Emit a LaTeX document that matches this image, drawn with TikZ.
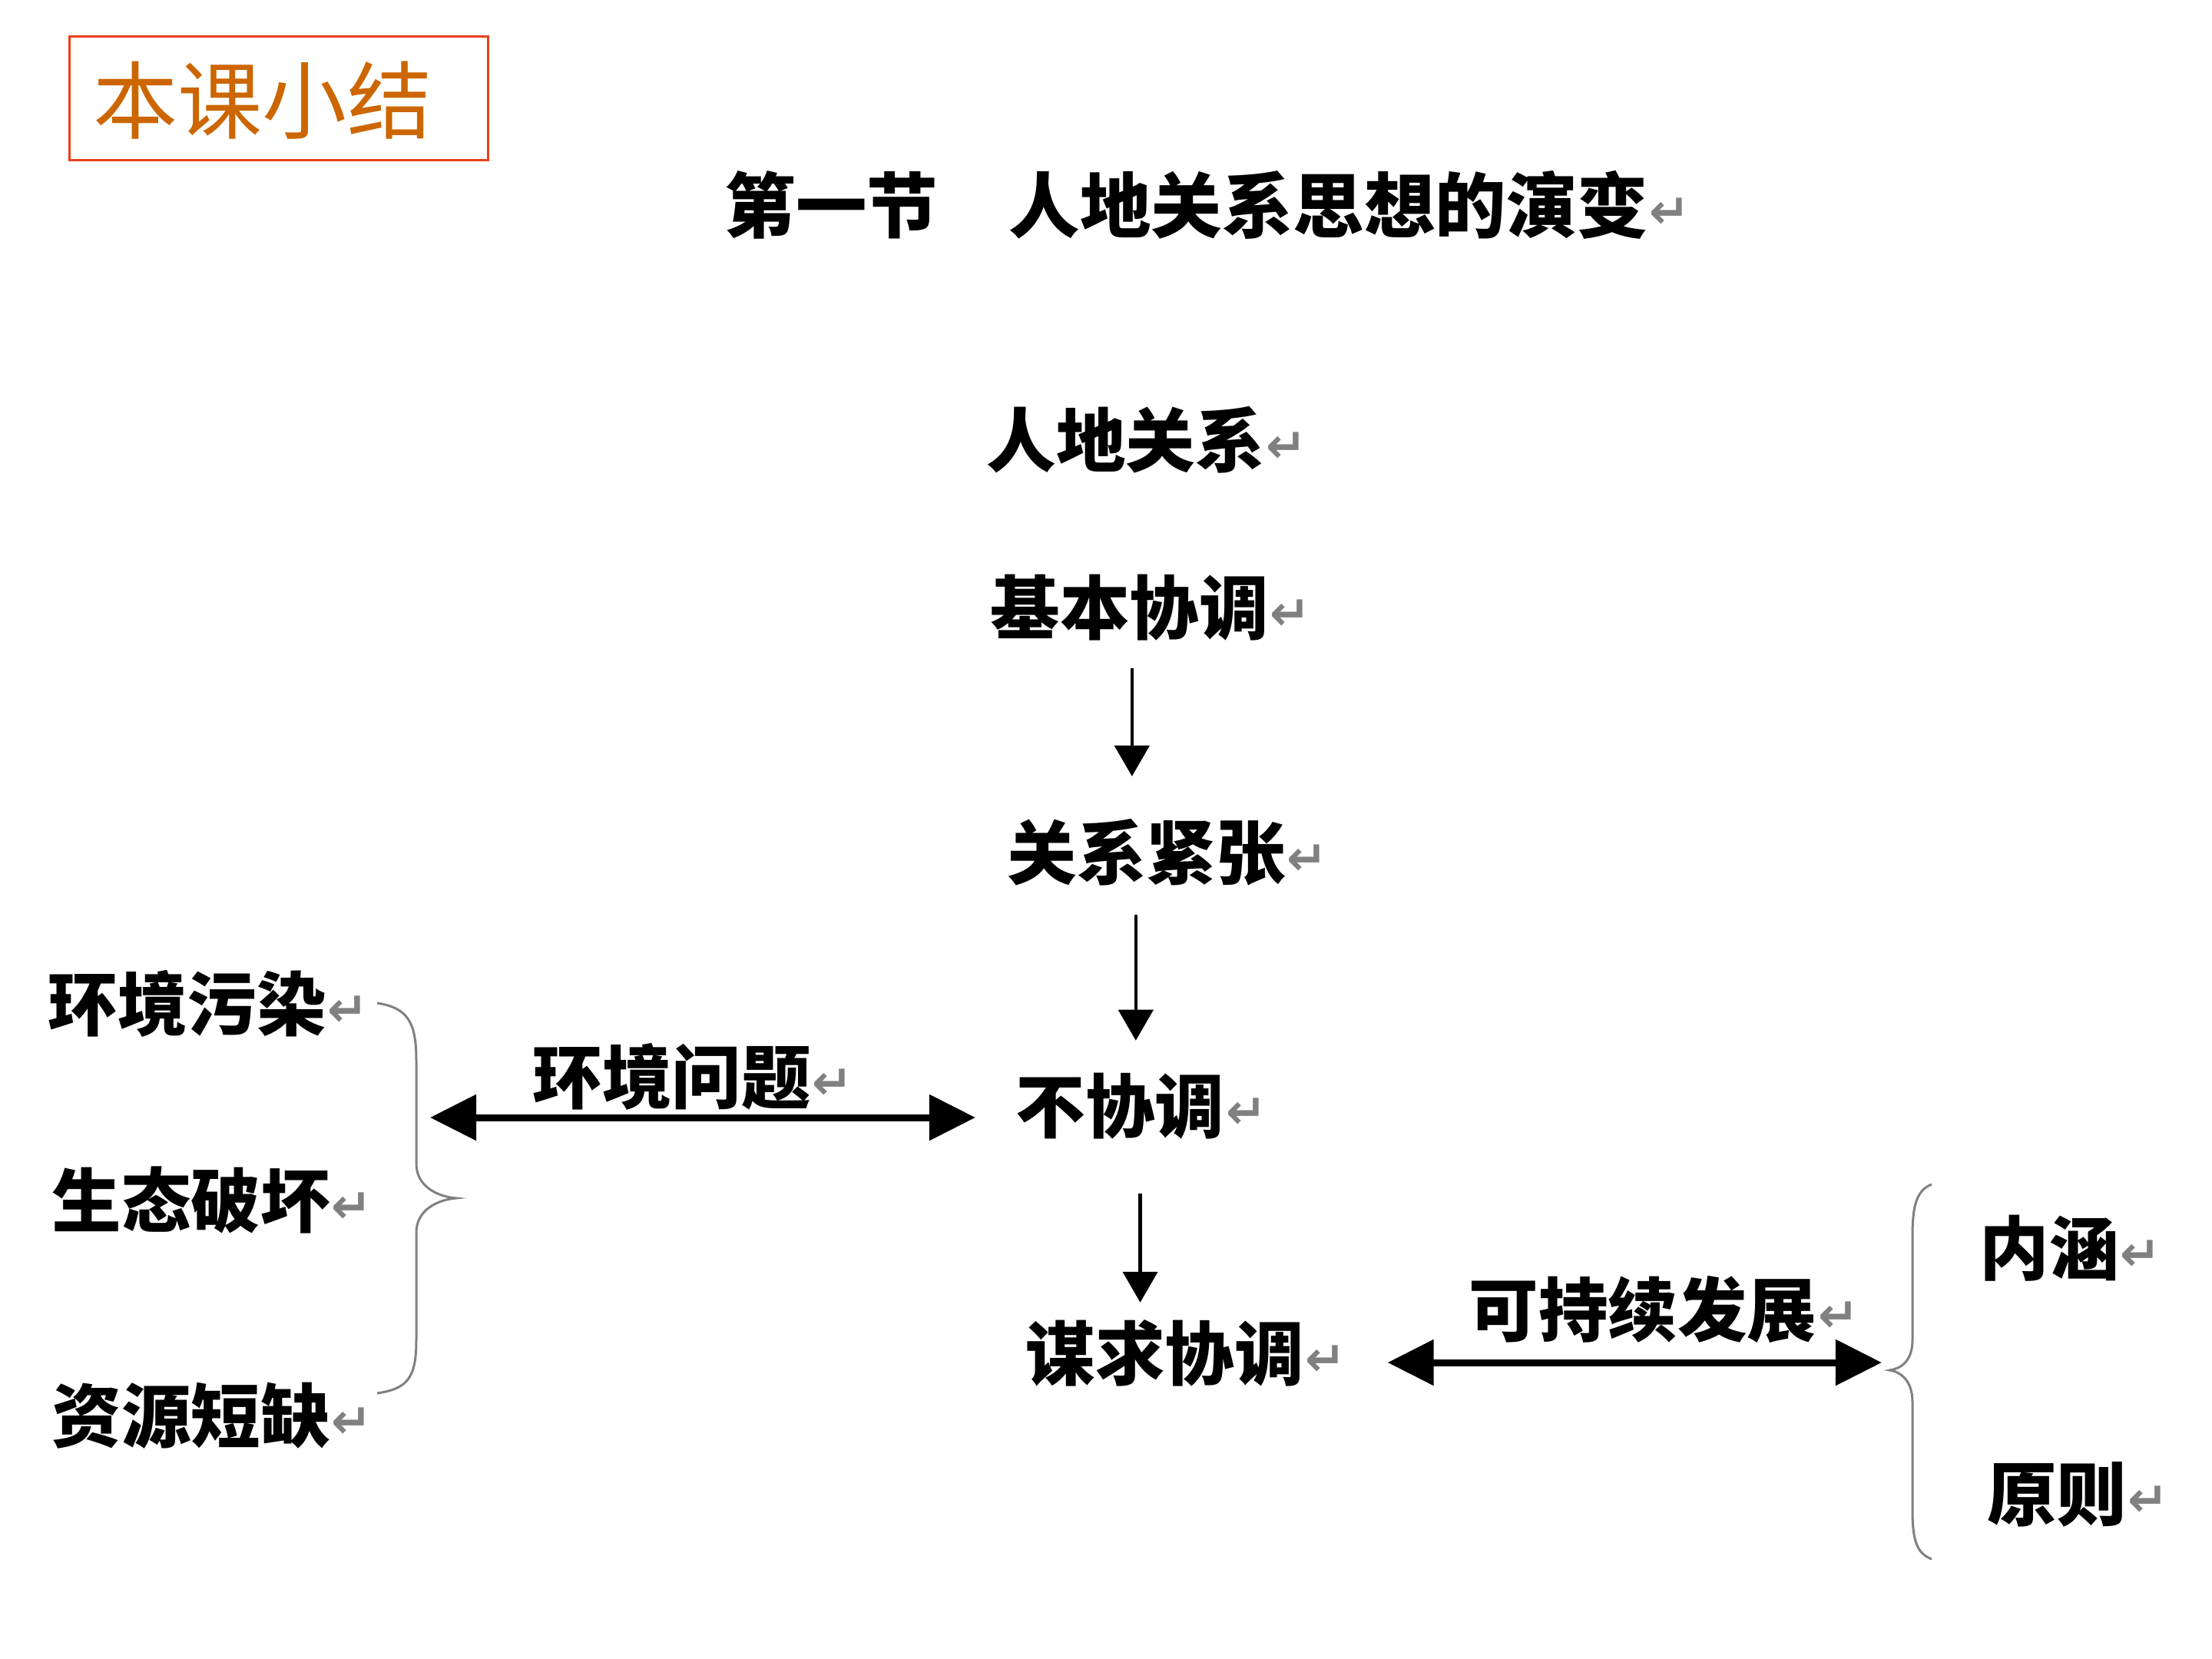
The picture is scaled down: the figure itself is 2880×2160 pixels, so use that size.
\documentclass[tikz,border=0pt]{standalone}
\usepackage{fontspec}
\newfontfamily\cjk{Noto Sans CJK SC}
\newfontfamily\djv{DejaVu Sans}
\usetikzlibrary{arrows.meta}
\definecolor{heading}{RGB}{204,102,0}
\definecolor{boxred}{RGB}{232,64,28}
\definecolor{markgray}{RGB}{128,128,128}
\newcommand{\rmark}{\rlap{\hspace{0.02em}\raisebox{0.05cm}{\djv\fontsize{18pt}{18pt}\selectfont\color{markgray}↵}}}
\begin{document}
\begin{tikzpicture}[x=0.01cm,y=-0.01cm,
  txt/.style={inner sep=0pt, anchor=west, text height=0.75cm, text depth=0.06cm,
    font=\cjk\bfseries\fontsize{25.75pt}{26pt}\selectfont},
  ttl/.style={inner sep=0pt, anchor=west, text height=0.77cm, text depth=0.06cm,
    font=\cjk\bfseries\fontsize{26.3pt}{27pt}\selectfont},
  vert/.style={line width=0.045cm, -{Triangle[length=0.4cm,width=0.45cm]}},
  dbl/.style={line width=0.09cm, {Triangle[length=0.6cm,width=0.58cm]}-{Triangle[length=0.6cm,width=0.58cm]}},
  brace/.style={markgray, line width=0.03cm}]
\useasboundingbox (0,0) rectangle (2880,2160);
\fill[white] (0,0) rectangle (2880,2160);
% heading
\node[draw=boxred, line width=0.03cm, minimum width=5.44cm, minimum height=1.6cm, inner sep=0pt] (hdbox) at (363,128) {};
\node[inner sep=0pt, text=heading, font=\cjk\fontsize{31.3pt}{32pt}\selectfont] (hd) at (342,131) {本课小结};
% title
\node[ttl] (title) at (943,267) {第一节　人地关系思想的演变\rmark};
% centre column
\node[txt] (t1) at (1284,573) {人地关系\rmark};
\node[txt] (t2) at (1289,791) {基本协调\rmark};
\node[txt] (t3) at (1311,1110) {关系紧张\rmark};
\node[txt] (t4) at (1322,1440) {不协调\rmark};
\node[txt] (t5) at (1335,1762) {谋求协调\rmark};
% left column
\node[txt] (l1) at (62,1307) {环境污染\rmark};
\node[txt] (l2) at (67,1563) {生态破坏\rmark};
\node[txt] (l3) at (67,1843) {资源短缺\rmark};
\node[txt] (lbl1) at (693,1402) {环境问题\rmark};
% right column
\node[txt] (lbl2) at (1912,1705) {可持续发展\rmark};
\node[txt] (r1) at (2577,1625) {内涵\rmark};
\node[txt] (r2) at (2587,1945) {原则\rmark};
% vertical arrows
\draw[vert, shorten <=0.38cm, shorten >=0.58cm] ([xshift=0.03cm]t2.south) -- ([xshift=0.03cm]t2.south |- t3.north);
\draw[vert, shorten <=0.40cm, shorten >=0.44cm] ([xshift=-0.14cm]t3.south) -- ([xshift=-0.14cm]t3.south |- t4.north);
\draw[vert, shorten <=0.73cm, shorten >=0.25cm] ([xshift=0.26cm]t4.south) -- ([xshift=0.26cm]t4.south |- t5.north);
% braces
\coordinate (lb) at (594,1560);
\coordinate (rb) at (2460,1784);
\draw[brace] (491,1306) .. controls (530,1312) and (542,1330) .. (542,1380) -- (542,1515)
  .. controls (542,1545) and (570,1558) .. (lb)
  .. controls (570,1562) and (542,1575) .. (542,1605) -- (542,1745)
  .. controls (542,1795) and (530,1808) .. (491,1814);
\draw[brace] (2515,1542) .. controls (2495,1550) and (2490,1570) .. (2490,1610) -- (2490,1745)
  .. controls (2490,1772) and (2475,1782) .. (rb)
  .. controls (2475,1786) and (2490,1798) .. (2490,1825) -- (2490,1965)
  .. controls (2490,2005) and (2495,2022) .. (2515,2030);
% double arrows
\coordinate (la) at (560,1455);
\coordinate (ra) at (2450,1774);
\draw[dbl, shorten >=0.52cm] (la) -- (la -| t4.west);
\draw[dbl, shorten <=1.08cm] (ra -| t5.east) -- (ra);
\end{tikzpicture}
\end{document}
